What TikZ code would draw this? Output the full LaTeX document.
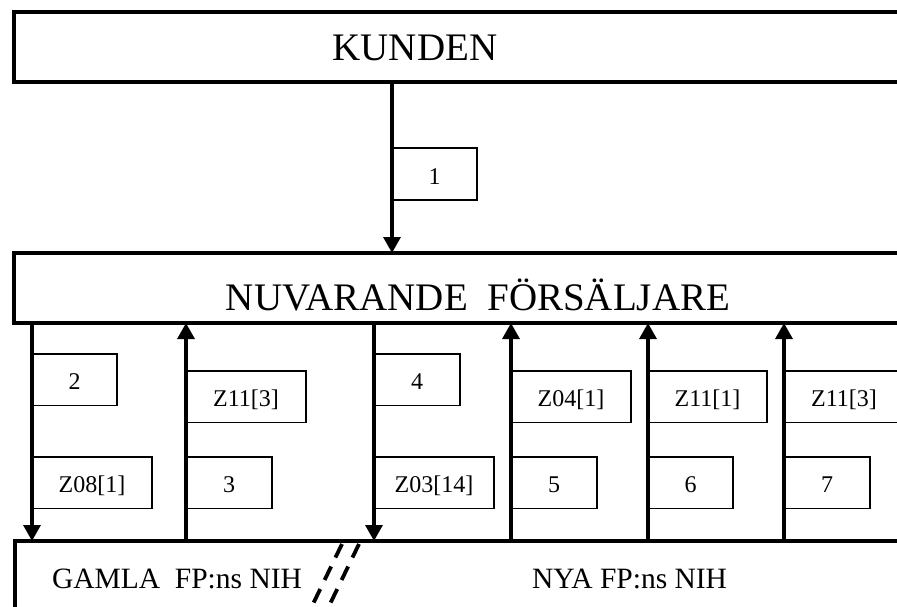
\documentclass[tikz,border=0pt]{standalone}
\usepackage{fontspec}
\setmainfont{Liberation Serif}
\usetikzlibrary{arrows.meta}
\begin{document}
\begin{tikzpicture}[x=1pt,y=-1pt,
  every node/.style={outer sep=0pt},
  mainbox/.style={draw,line width=4pt,anchor=north west,inner sep=0pt,minimum width=1000pt},
  lbl/.style={draw,line width=1.8pt,anchor=north west,inner sep=0pt,minimum height=51.5pt,
    font=\fontsize{24}{28}\selectfont,text height=22pt,text depth=2pt},
  flow/.style={line width=3.2pt,-{Triangle[length=16pt,width=17pt]}},
  bigtext/.style={inner sep=0pt,anchor=base,font=\fontsize{39}{46}\selectfont},
  midtext/.style={inner sep=0pt,anchor=base west,font=\fontsize{29.5}{34}\selectfont},
  breakmark/.style={line width=3.8pt,dash pattern=on 15pt off 10pt}]
\useasboundingbox (0,0) rectangle (897,606);
\clip (0,0) rectangle (897,606);
\fill[white] (0,0) rectangle (897,606);

% main boxes
\node[mainbox,minimum height=70pt] (kunden) at (14,12) {};
\node[mainbox,minimum height=70pt] (nuv) at (14,253) {};
\node[mainbox,minimum height=120pt] (fp) at (15,541) {};

\node[bigtext] (tk) at (415,60) {KUNDEN};
\node[bigtext] (tn) at (478,310) {NUVARANDE\ \ FÖRSÄLJARE};
\node[midtext] (tg) at (52,588) {GAMLA\ \ FP:ns NIH};
\node[midtext] (ty) at (532,588) {NYA FP:ns NIH};

% labels
\node[lbl,minimum width=85pt,minimum height=52pt] (l1) at (392,148) {1};
\node[lbl,minimum width=85pt] (l2) at (32,354) {2};
\node[lbl,minimum width=120pt] (l2b) at (32,457) {Z08[1]};
\node[lbl,minimum width=120pt] (l3a) at (186,371) {Z11[3]};
\node[lbl,minimum width=86pt] (l3) at (186,457) {3};
\node[lbl,minimum width=86pt] (l4) at (374,354) {4};
\node[lbl,minimum width=120pt] (l4b) at (374,457) {Z03[14]};
\node[lbl,minimum width=120pt] (l5a) at (511,371) {Z04[1]};
\node[lbl,minimum width=86pt] (l5) at (511,457) {5};
\node[lbl,minimum width=119pt] (l6a) at (648,371) {Z11[1]};
\node[lbl,minimum width=85pt] (l6) at (648,457) {6};
\node[lbl,minimum width=120pt] (l7a) at (784,371) {Z11[3]};
\node[lbl,minimum width=86pt] (l7) at (784,457) {7};

% connectors
\draw[flow] (kunden.south -| l1.west) -- (nuv.north -| l1.west);
\draw[flow] (nuv.south -| l2.west) -- (fp.north -| l2.west);
\draw[flow] (fp.north -| l3.west) -- (nuv.south -| l3.west);
\draw[flow] (nuv.south -| l4.west) -- (fp.north -| l4.west);
\draw[flow] (fp.north -| l5.west) -- (nuv.south -| l5.west);
\draw[flow] (fp.north -| l6.west) -- (nuv.south -| l6.west);
\draw[flow] (fp.north -| l7.west) -- (nuv.south -| l7.west);

% break mark
\draw[breakmark] (342,544) -- (313,604);
\draw[breakmark] (359,544) -- (330,604);
\end{tikzpicture}
\end{document}
